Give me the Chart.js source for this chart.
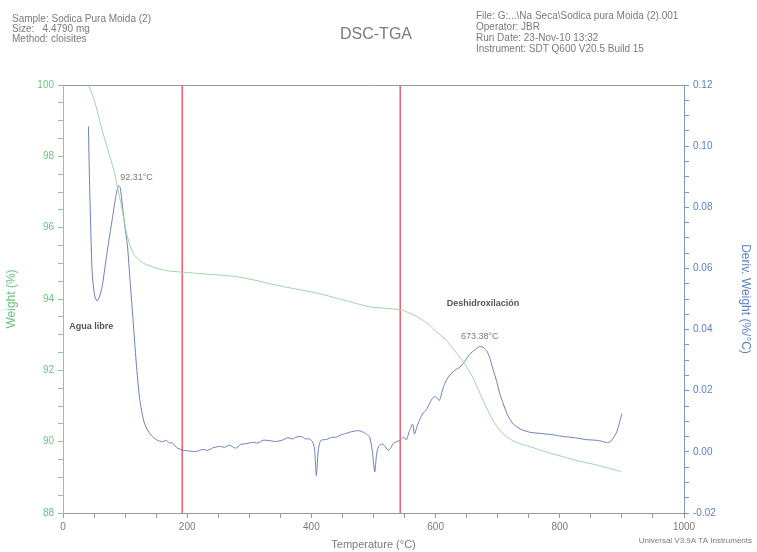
<!DOCTYPE html>
<html>
<head>
<meta charset="utf-8">
<script src="https://cdn.jsdelivr.net/npm/chart.js@4.4.1/dist/chart.umd.min.js"></script>
<style>
  html, body { margin: 0; padding: 0; background: #fff; }
  #wrap { width: 757px; height: 552px; }
</style>
</head>
<body>
<div id="wrap"><canvas id="tgaChart" width="757" height="552"></canvas></div>
<script>
// curva de peso (TGA)
const weightTemp = [40, 50, 63, 72, 82, 93, 103, 110, 117, 130, 144, 165, 187, 230, 278, 316, 343, 375, 408, 450, 494, 520, 545, 565, 579, 590, 600, 617, 633, 650, 660, 671, 682, 692, 703, 714, 730, 752, 780, 805, 830, 859, 880, 899];
const weightPct = [100.05, 99.6, 98.74, 98.2, 97.6, 96.7, 95.8, 95.4, 95.18, 95.0, 94.9, 94.8, 94.76, 94.7, 94.63, 94.5, 94.39, 94.28, 94.17, 93.98, 93.78, 93.74, 93.69, 93.55, 93.41, 93.27, 93.1, 92.85, 92.5, 92.1, 91.8, 91.37, 90.95, 90.61, 90.33, 90.14, 89.98, 89.86, 89.7, 89.58, 89.46, 89.35, 89.25, 89.16];

// derivada (DTG)
const derivTemp = [41, 42, 44, 47, 51, 55, 59, 63, 68, 74, 80, 85, 89, 92, 96, 100, 104, 108, 112, 118, 123, 127, 131, 137, 144, 152, 160, 166, 171, 176, 183, 192, 203, 214, 225, 233, 241, 252, 260, 268, 278, 286, 296, 305, 314, 322, 332, 342, 353, 362, 370, 375, 384, 390, 397, 402, 405, 408, 411, 415, 425, 433, 440, 448, 455, 461, 469, 477, 484, 490, 494, 498, 502, 505, 508, 513, 518, 523, 527, 532, 537, 542, 548, 553, 558, 563, 566, 570, 575, 579, 585, 590, 596, 601, 606, 612, 617, 625, 632, 639, 647, 655, 663, 671, 678, 683, 687, 692, 698, 703, 709, 716, 725, 737, 752, 770, 789, 800, 811, 825, 843, 858, 869, 875, 881, 886, 891, 894, 897, 900];
const derivVal = [0.1064, 0.095, 0.078, 0.0585, 0.051, 0.0493, 0.051, 0.054, 0.061, 0.0693, 0.077, 0.0835, 0.087, 0.0865, 0.080, 0.073, 0.067, 0.056, 0.0454, 0.029, 0.018, 0.013, 0.0094, 0.0068, 0.005, 0.0038, 0.0033, 0.0038, 0.0029, 0.003, 0.0014, 0.0006, 0.0003, 0.0001, 0.0008, 0.0005, 0.0013, 0.0018, 0.0015, 0.0022, 0.0012, 0.0024, 0.0027, 0.0031, 0.0029, 0.0038, 0.0037, 0.0034, 0.0038, 0.0046, 0.0042, 0.0048, 0.005, 0.0043, 0.0042, 0.0033, 0.001, -0.0078, 0.0003, 0.0037, 0.0041, 0.0048, 0.0048, 0.0056, 0.006, 0.0064, 0.0068, 0.0069, 0.0064, 0.0056, 0.0048, 0.0004, -0.0066, -0.0007, 0.0016, 0.0026, 0.002, 0.0006, 0.001, 0.0028, 0.0033, 0.0037, 0.0048, 0.004, 0.0069, 0.0091, 0.0058, 0.0083, 0.0108, 0.0124, 0.0138, 0.0157, 0.0178, 0.018, 0.0168, 0.0208, 0.0233, 0.0256, 0.0268, 0.0277, 0.0296, 0.032, 0.0333, 0.0345, 0.034, 0.0328, 0.0309, 0.0273, 0.0233, 0.0193, 0.0157, 0.012, 0.0091, 0.0074, 0.0064, 0.0060, 0.0056, 0.0052, 0.0049, 0.0046, 0.004, 0.0038, 0.0034, 0.003, 0.0033, 0.0045, 0.0062, 0.008, 0.0102, 0.0125];

// lineas rojas verticales
const redLineTemps = [192, 543];

// textos
const headerLeft = ['Sample: Sodica Pura Moida (2)', 'Size:   4.4790 mg', 'Method: cloisites'];
const headerRight = ['File: G:...\\Na Seca\\Sodica pura Moida (2).001', 'Operator: JBR', 'Run Date: 23-Nov-10 13:32', 'Instrument: SDT Q600 V20.5 Build 15'];
const chartTitle = 'DSC-TGA';
const footerText = 'Universal V3.9A TA Instruments';

const FONT = '"Liberation Sans", Arial, sans-serif';
const GREEN = '#6cc27f';
const BLUE = '#5b7fc7';
const GREY = '#7a7a7a';

function toPoints(xs, ys) {
  return xs.map((x, i) => ({ x: x, y: ys[i] }));
}

const datasets = [
  {
    label: 'Weight (%)',
    data: toPoints(weightTemp, weightPct),
    yAxisID: 'y',
    borderColor: '#9fd4a8',
    borderWidth: 1,
    pointRadius: 0,
    tension: 0.25,
    showLine: true
  },
  {
    label: 'Deriv. Weight (%/°C)',
    data: toPoints(derivTemp, derivVal),
    yAxisID: 'y1',
    borderColor: '#6a7fb8',
    borderWidth: 1,
    pointRadius: 0,
    tension: 0.2,
    showLine: true
  }
];

redLineTemps.forEach(t => {
  datasets.push({
    label: 'corte',
    data: [{ x: t, y: 88 }, { x: t, y: 100 }],
    yAxisID: 'y',
    borderColor: '#f05a6e',
    borderWidth: 1.5,
    pointRadius: 0,
    showLine: true
  });
});

// anotaciones de texto ancladas a los ejes
const notes = [
  { text: '92.31°C', x: 92, y: 0.0896, axis: 'y1', align: 'left', bold: false },
  { text: 'Agua libre', x: 10, y: 93.22, axis: 'y', align: 'left', bold: true },
  { text: 'Deshidroxilación', x: 618, y: 93.86, axis: 'y', align: 'left', bold: true },
  { text: '673.38°C', x: 671, y: 0.0376, axis: 'y1', align: 'center', bold: false }
];

const textos = {
  id: 'textos',
  afterDraw(chart) {
    const ctx = chart.ctx;
    const area = chart.chartArea;
    ctx.save();
    // borde superior
    ctx.strokeStyle = '#999';
    ctx.lineWidth = 1;
    ctx.beginPath();
    ctx.moveTo(area.left, area.top + 0.5);
    ctx.lineTo(area.right, area.top + 0.5);
    ctx.stroke();

    ctx.fillStyle = GREY;
    ctx.textBaseline = 'middle';
    ctx.textAlign = 'left';
    ctx.font = '10px ' + FONT;
    headerLeft.forEach((t, i) => ctx.fillText(t, 12, 19 + i * 10));
    headerRight.forEach((t, i) => ctx.fillText(t, 476, 16 + i * 11));

    ctx.textAlign = 'center';
    ctx.font = '16px ' + FONT;
    ctx.fillText(chartTitle, 376, 35);

    ctx.textAlign = 'right';
    ctx.font = '8px ' + FONT;
    ctx.fillText(footerText, 752, 541);

    const xs = chart.scales.x;
    notes.forEach(n => {
      const ys = chart.scales[n.axis];
      ctx.textAlign = n.align;
      ctx.fillStyle = n.bold ? '#555' : GREY;
      ctx.font = (n.bold ? 'bold ' : '') + '9px ' + FONT;
      ctx.fillText(n.text, xs.getPixelForValue(n.x), ys.getPixelForValue(n.y));
    });
    ctx.restore();
  }
};

const ctx = document.getElementById('tgaChart');
new Chart(ctx, {
  type: 'scatter',
  data: { datasets: datasets },
  options: {
    responsive: false,
    devicePixelRatio: 1,
    animation: false,
    layout: { padding: { top: 85, left: 0, right: 0, bottom: 0 } },
    plugins: {
      legend: { display: false },
      tooltip: { enabled: false }
    },
    scales: {
      x: {
        type: 'linear',
        min: 0,
        max: 1000,
        afterFit(s) { s.height = 39; },
        border: { color: '#999' },
        grid: { drawOnChartArea: false, tickLength: 5, color: '#999' },
        ticks: {
          stepSize: 50,
          autoSkip: false,
          maxRotation: 0,
          padding: 3,
          color: GREY,
          font: { size: 10, family: FONT },
          callback: v => (v % 200 === 0 ? v : '')
        },
        title: {
          display: true,
          text: 'Temperature (°C)',
          color: GREY,
          padding: { top: 0, bottom: 0 },
          font: { size: 11, family: FONT }
        }
      },
      y: {
        position: 'left',
        min: 88,
        max: 100,
        afterFit(s) { s.width = 63; },
        border: { color: '#9cbfa3' },
        grid: { drawOnChartArea: false, tickLength: 5, color: '#9cbfa3' },
        ticks: {
          stepSize: 0.5,
          autoSkip: false,
          padding: 4,
          color: GREEN,
          font: { size: 10, family: FONT },
          callback: v => (Math.abs(v % 2) < 1e-9 ? v : '')
        },
        title: {
          display: true,
          text: 'Weight (%)',
          color: GREEN,
          padding: { top: 4, bottom: 0 },
          font: { size: 12, family: FONT }
        }
      },
      y1: {
        position: 'right',
        min: -0.02,
        max: 0.12,
        afterFit(s) { s.width = 73; },
        border: { color: '#8094bf' },
        grid: { drawOnChartArea: false, tickLength: 5, color: '#8094bf' },
        ticks: {
          stepSize: 0.005,
          autoSkip: false,
          padding: 4,
          color: BLUE,
          font: { size: 10, family: FONT },
          callback: v => {
            const r = Math.round(v * 1000);
            if (r % 20 !== 0) return '';
            return (r === 0 ? 0 : r / 1000).toFixed(2);
          }
        },
        title: {
          display: true,
          text: 'Deriv. Weight (%/°C)',
          color: BLUE,
          padding: { top: 4, bottom: 0 },
          font: { size: 12, family: FONT }
        }
      }
    }
  },
  plugins: [textos]
});
</script>
</body>
</html>
